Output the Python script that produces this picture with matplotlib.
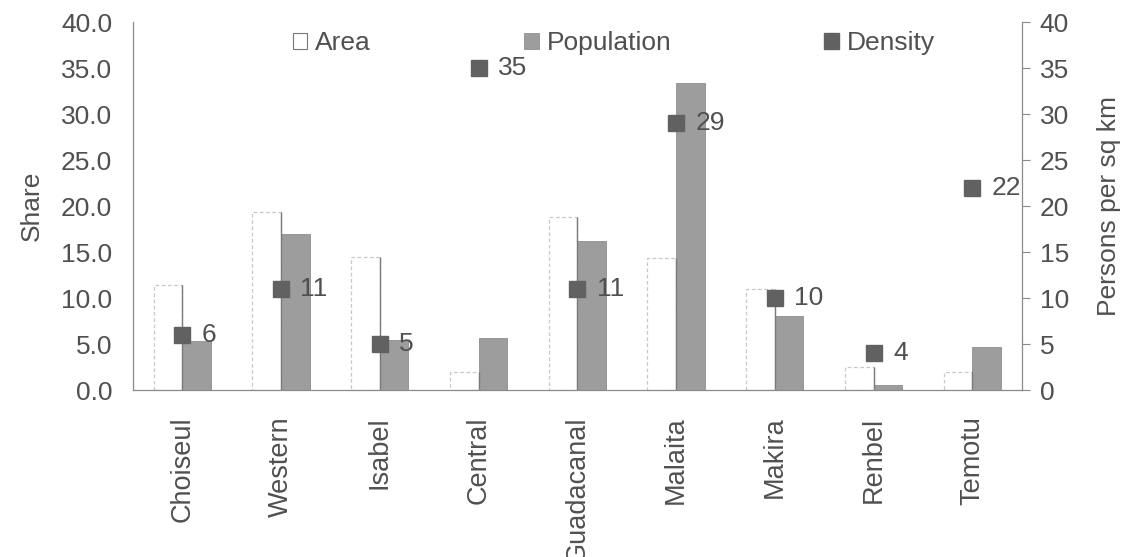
import matplotlib
matplotlib.use("Agg")
import matplotlib.pyplot as plt
from matplotlib.patches import Patch
import numpy as np

# Provincial share of land area and population (%), and population density
provinces = ["Choiseul", "Western", "Isabel", "Central", "Guadacanal",
             "Malaita", "Makira", "Renbel", "Temotu"]
area_share = [11.4, 19.4, 14.5, 2.0, 18.8, 14.4, 11.0, 2.5, 2.0]
population_share = [5.3, 17.0, 5.4, 5.6, 16.2, 33.4, 8.0, 0.5, 4.7]
density = [6, 11, 5, 35, 11, 29, 10, 4, 22]

left_ticks = np.arange(0, 45, 5)
right_ticks = np.arange(0, 45, 5)

text_col = "#505050"
pop_col = "#9d9d9d"
dens_col = "#616161"
spine_col = "#8a8a8a"

plt.rcParams["font.family"] = ["Liberation Sans", "DejaVu Sans"]
plt.rcParams["font.size"] = 19

fig = plt.figure(figsize=(11.26, 5.57), dpi=100)
ax = fig.add_axes([0.118, 0.2998, 0.7894, 0.6607])
ax2 = ax.twinx()

x = np.arange(len(provinces))
w = 0.29

# Area bars: white with light dashed outline, darker right edge
ax.bar(x - w / 2, area_share, width=w, color="white", edgecolor="#c8c8c8",
       linewidth=0.9, linestyle=(0, (3, 2)), zorder=2)
ax.vlines(x, 0, area_share, color="#7a7a7a", linewidth=1.0, zorder=3)
# Population bars
ax.bar(x + w / 2, population_share, width=w, color=pop_col,
       edgecolor="#8e8e8e", linewidth=0.6, zorder=2)

ax.set_xlim(-0.5, len(provinces) - 0.5)
ax.set_ylim(0, 40)
ax.set_yticks(left_ticks)
ax.set_yticklabels([f"{v:.1f}" for v in left_ticks])
ax.set_xticks(x)
ax.set_xticklabels(provinces, rotation=90, va="top", ha="center",
                   fontsize=19.5)
ax.tick_params(axis="y", length=0, pad=15, colors=text_col)
ax.tick_params(axis="x", length=0, pad=19, colors=text_col)
ax.set_ylabel("Share", color=text_col, labelpad=12)

# Density markers on the secondary axis
ax2.plot(x, density, linestyle="none", marker="s", markersize=12,
         color=dens_col, zorder=5)
for xi, d in zip(x, density):
    ax2.annotate(f"{d}", (xi, d), xytext=(14, 0), textcoords="offset points",
                 ha="left", va="center", color=text_col, fontsize=19)
ax2.set_ylim(0, 40)
ax2.set_yticks(right_ticks)
ax2.set_yticklabels([f"{v:d}" for v in right_ticks])
ax2.tick_params(axis="y", length=6, width=0.8, pad=7, colors=text_col)
ax2.tick_params(axis="y", color=spine_col)
ax2.set_ylabel("Persons per sq km", color=text_col, labelpad=20)

for a in (ax, ax2):
    a.spines["top"].set_visible(False)
    for s in ("left", "right", "bottom"):
        a.spines[s].set_color(spine_col)
        a.spines[s].set_linewidth(0.9)
ax.spines["right"].set_visible(False)
ax2.spines["left"].set_visible(False)
ax2.spines["bottom"].set_visible(False)

handles = [
    Patch(facecolor="white", edgecolor="#777777", linewidth=0.8),
    Patch(facecolor=pop_col, edgecolor="#8e8e8e", linewidth=0.6),
    Patch(facecolor=dens_col, edgecolor=dens_col),
]
leg = ax2.legend(handles, ["Area", "Population", "Density"], ncol=3,
                 loc="upper left", bbox_to_anchor=(0.174, 0.99),
                 frameon=False, handlelength=0.55, handleheight=0.55,
                 handletextpad=0.3, columnspacing=5.8, borderpad=0,
                 borderaxespad=0.2, fontsize=19)
for t in leg.get_texts():
    t.set_color(text_col)

fig.savefig("out.png", dpi=100, facecolor="white")
